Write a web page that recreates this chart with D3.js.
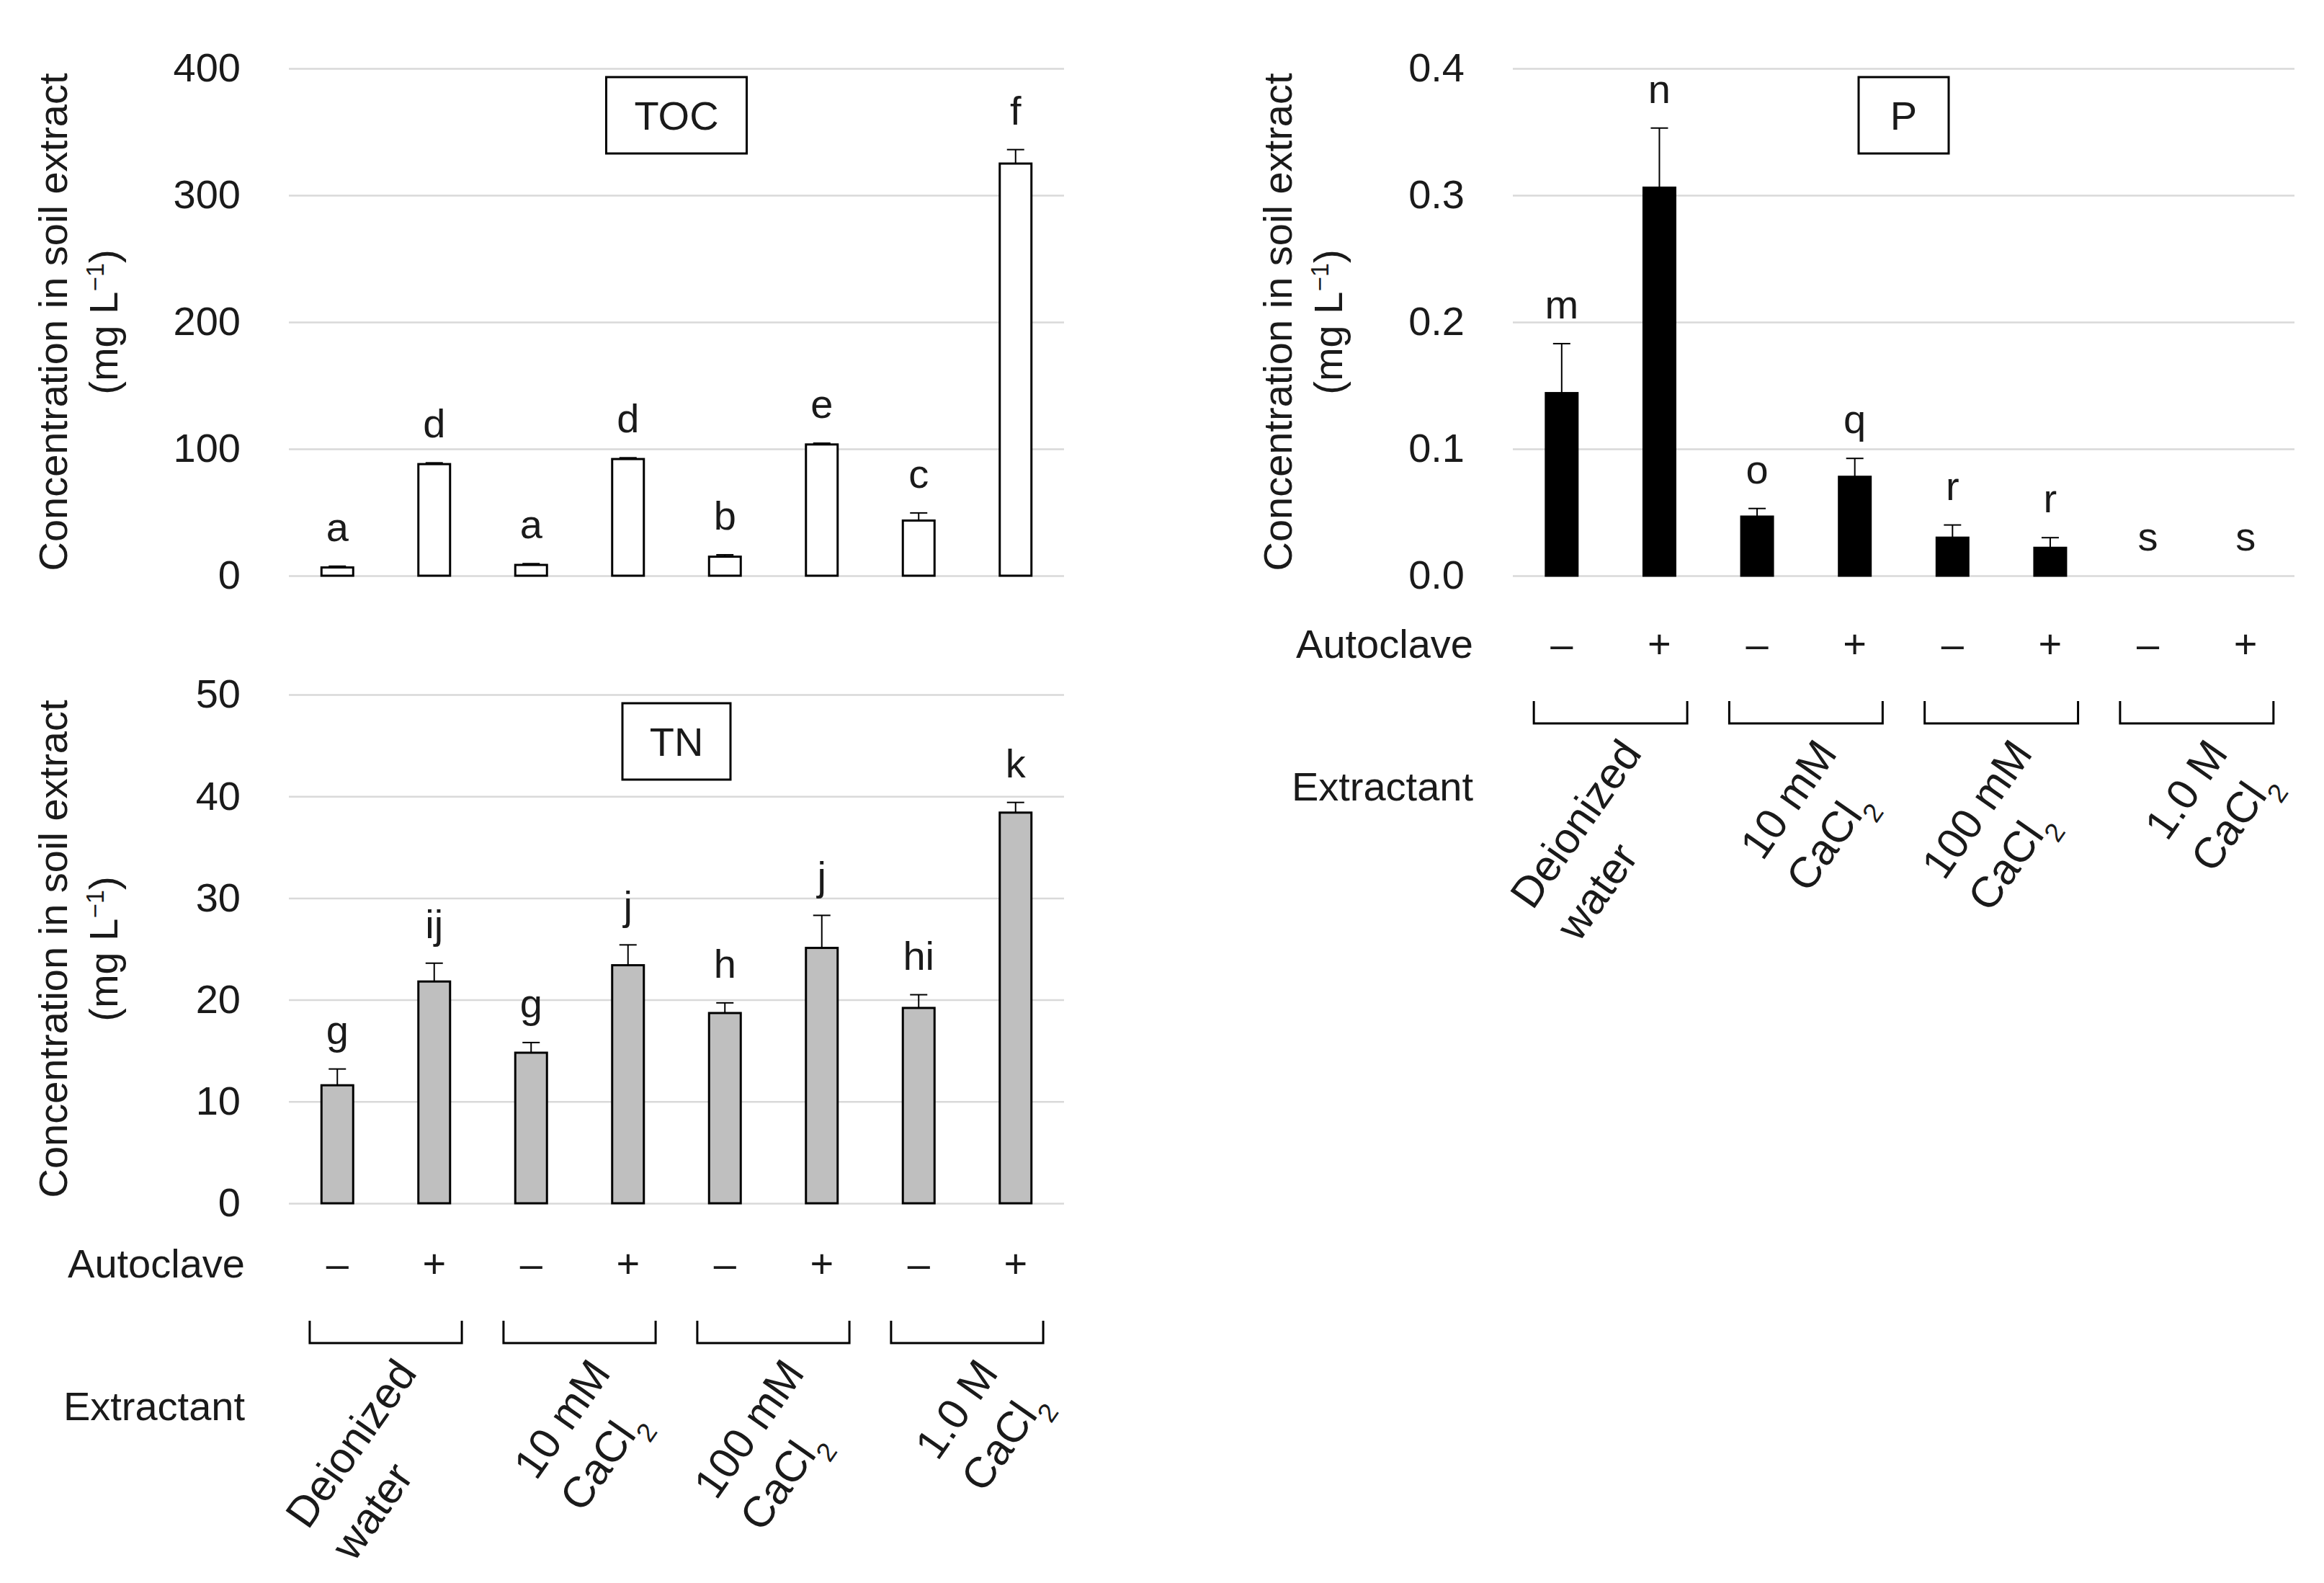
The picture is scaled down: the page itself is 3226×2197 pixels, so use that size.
<!DOCTYPE html>
<html><head><meta charset="utf-8">
<script src="https://cdn.jsdelivr.net/npm/d3@7"></script>
<style>
html,body{margin:0;padding:0;background:#fff;}
svg text{font-family:"Liberation Sans",Arial,sans-serif;fill:#1a1a1a;}
</style></head><body>
<svg id="chart" width="3226" height="2197"></svg>
<script>
// ---------------- data ----------------
const treatments = ["DW-","DW+","10mM-","10mM+","100mM-","100mM+","1M-","1M+"];
const autoclave = ["–","+","–","+","–","+","–","+"];
const extractantLine1 = ["Deionized","10 mM","100 mM","1.0 M"];
const extractantLine2 = ["water","CaCl","CaCl","CaCl"];
const extractantSub = ["","2","2","2"];

const tocValues = [6.5, 88, 8.5, 92, 15, 103.5, 43.5, 325];
const tocErrors = [1, 1, 1, 1, 1.5, 1, 6, 11];
const tocLetters = ["a","d","a","d","b","e","c","f"];
const tocTicks = [0, 100, 200, 300, 400];

const tnValues = [11.6, 21.8, 14.8, 23.4, 18.7, 25.1, 19.2, 38.4];
const tnErrors = [1.6, 1.8, 1.0, 2.0, 1.0, 3.2, 1.3, 1.0];
const tnLetters = ["g","ij","g","j","h","j","hi","k"];
const tnTicks = [0, 10, 20, 30, 40, 50];

const pValues = [0.144, 0.306, 0.0466, 0.078, 0.030, 0.022, 0, 0];
const pErrors = [0.039, 0.047, 0.0064, 0.0145, 0.010, 0.008, 0, 0];
const pLetters = ["m","n","o","q","r","r","s","s"];
const pTicks = [0, 0.1, 0.2, 0.3, 0.4];

// ---------------- drawing ----------------
const svg = d3.select("#chart");
svg.append("rect").attr("width",3226).attr("height",2197).attr("fill","#fff");
const FS = 56;
const FSL = 60;      // rotated extractant labels
const LSP = 78;      // line spacing of rotated labels

function panel(cfg){
  const g = svg.append("g");
  const x = d3.scaleBand().domain(treatments).range([cfg.x0, cfg.x1]).padding(0);
  const y = d3.scaleLinear().domain([0, cfg.max]).range([cfg.yb, cfg.yt]);
  const bw = x.bandwidth();
  const barW = 44;

  // axis + gridlines
  const ax = g.append("g").attr("transform", `translate(${cfg.x0},0)`)
    .call(d3.axisLeft(y).tickValues(cfg.ticks).tickFormat(cfg.fmt)
      .tickSize(-(cfg.x1 - cfg.x0)).tickPadding(67));
  ax.select(".domain").remove();
  ax.selectAll(".tick line").attr("stroke","#d9d9d9").attr("stroke-width",2.5);
  ax.selectAll(".tick text").attr("font-size",FS).attr("fill","#1a1a1a")
    .style("font-family","'Liberation Sans',Arial,sans-serif");

  // bars
  g.selectAll("rect.bar").data(cfg.values.map((v,i)=>({v,i,t:treatments[i]})).filter(d=>d.v>0))
    .join("rect").attr("class","bar")
    .attr("x", d => x(d.t) + (bw - barW)/2)
    .attr("width", barW)
    .attr("y", d => y(d.v))
    .attr("height", d => y(0) - y(d.v))
    .attr("fill", cfg.fill).attr("stroke","#000").attr("stroke-width",3);

  // error bars
  cfg.values.forEach((v,i)=>{
    const e = cfg.errors[i];
    if (e <= 0) return;
    const cx = x(treatments[i]) + bw/2;
    g.append("line").attr("x1",cx).attr("x2",cx).attr("y1",y(v)).attr("y2",y(v+e))
      .attr("stroke","#000").attr("stroke-width",2);
    g.append("line").attr("x1",cx-12).attr("x2",cx+12).attr("y1",y(v+e)).attr("y2",y(v+e))
      .attr("stroke","#000").attr("stroke-width",2);
  });

  // letters
  cfg.letters.forEach((L,i)=>{
    const cx = x(treatments[i]) + bw/2;
    g.append("text").attr("x",cx).attr("y", y(cfg.values[i] + cfg.errors[i]) - 35)
      .attr("text-anchor","middle").attr("font-size",FS).text(L);
  });

  // title box
  const cxp = (cfg.x0 + cfg.x1)/2;
  const boxW = cfg.boxW;
  g.append("rect").attr("x", cxp - boxW/2).attr("y", cfg.yt + 12)
    .attr("width", boxW).attr("height", 106)
    .attr("fill","#fff").attr("stroke","#000").attr("stroke-width",3);
  g.append("text").attr("x",cxp).attr("y", cfg.yt + 12 + 53)
    .attr("dy","0.35em").attr("text-anchor","middle").attr("font-size",FS).text(cfg.title);

  // y axis title
  const cy = (cfg.yt + cfg.yb)/2;
  g.append("text").attr("transform",`translate(${cfg.tx1},${cy}) rotate(-90)`)
    .attr("text-anchor","middle").attr("font-size",FS).text("Concentration in soil extract");
  const t2 = g.append("text").attr("transform",`translate(${cfg.tx2},${cy}) rotate(-90)`)
    .attr("text-anchor","middle").attr("font-size",FS);
  t2.append("tspan").text("(mg L");
  t2.append("tspan").attr("baseline-shift","super").attr("font-size",FS*0.62).text("−1");
  t2.append("tspan").text(")");

  // autoclave row and extractant labels
  if (cfg.autoY){
    g.append("text").attr("x",cfg.rowX).attr("y",cfg.autoY).attr("text-anchor","end")
      .attr("font-size",FS).text("Autoclave");
    autoclave.forEach((s,i)=>{
      g.append("text").attr("x", x(treatments[i]) + bw/2).attr("y", cfg.autoY)
        .attr("text-anchor","middle").attr("font-size",FS).text(s);
    });
    const bTop = cfg.autoY + 60, bBot = cfg.autoY + 91;
    extractantLine1.forEach((l1,k)=>{
      const gc = cfg.x0 + (2*k+1)*bw;
      const half = 0.785*bw;
      g.append("path").attr("d",`M${gc-half},${bTop}V${bBot}H${gc+half}V${bTop}`)
        .attr("fill","none").attr("stroke","#000").attr("stroke-width",3);
    });
    g.append("text").attr("x",cfg.rowX).attr("y",cfg.autoY + 198).attr("text-anchor","end")
      .attr("font-size",FS).text("Extractant");

    const ang = -55, rad = ang*Math.PI/180;
    const u = [Math.cos(rad), Math.sin(rad)];
    extractantLine1.forEach((l1,k)=>{
      const gc = cfg.x0 + (2*k+1)*bw;
      const lg = g.append("g");
      const a = lg.append("text").attr("text-anchor","start").attr("font-size",FSL).text(l1);
      const b = lg.append("text").attr("text-anchor","start").attr("font-size",FSL).attr("y",LSP);
      b.append("tspan").text(extractantLine2[k]);
      if (extractantSub[k]) b.append("tspan").attr("baseline-shift","sub").attr("font-size",FSL*0.62).text(extractantSub[k]);
      const w1 = a.node().getComputedTextLength();
      const E = [gc + 45, bBot + 42];
      const S = [E[0] - u[0]*w1, E[1] - u[1]*w1];
      lg.attr("transform",`translate(${S[0]},${S[1]}) rotate(${ang})`);
    });
  }
}

panel({x0:401, x1:1477, yt:95, yb:799, max:400, ticks:tocTicks, fmt:d3.format("d"),
  values:tocValues, errors:tocErrors, letters:tocLetters, fill:"#fff", title:"TOC", boxW:195,
  tx1:93, tx2:163});
panel({x0:401, x1:1477, yt:964, yb:1670, max:50, ticks:tnTicks, fmt:d3.format("d"),
  values:tnValues, errors:tnErrors, letters:tnLetters, fill:"#bfbfbf", title:"TN", boxW:150,
  tx1:93, tx2:163, autoY:1773, rowX:340});
panel({x0:2100, x1:3185, yt:95, yb:799, max:0.4, ticks:pTicks, fmt:d3.format(".1f"),
  values:pValues, errors:pErrors, letters:pLetters, fill:"#000", title:"P", boxW:125,
  tx1:1793, tx2:1863, autoY:913, rowX:2045});
</script>
</body></html>
